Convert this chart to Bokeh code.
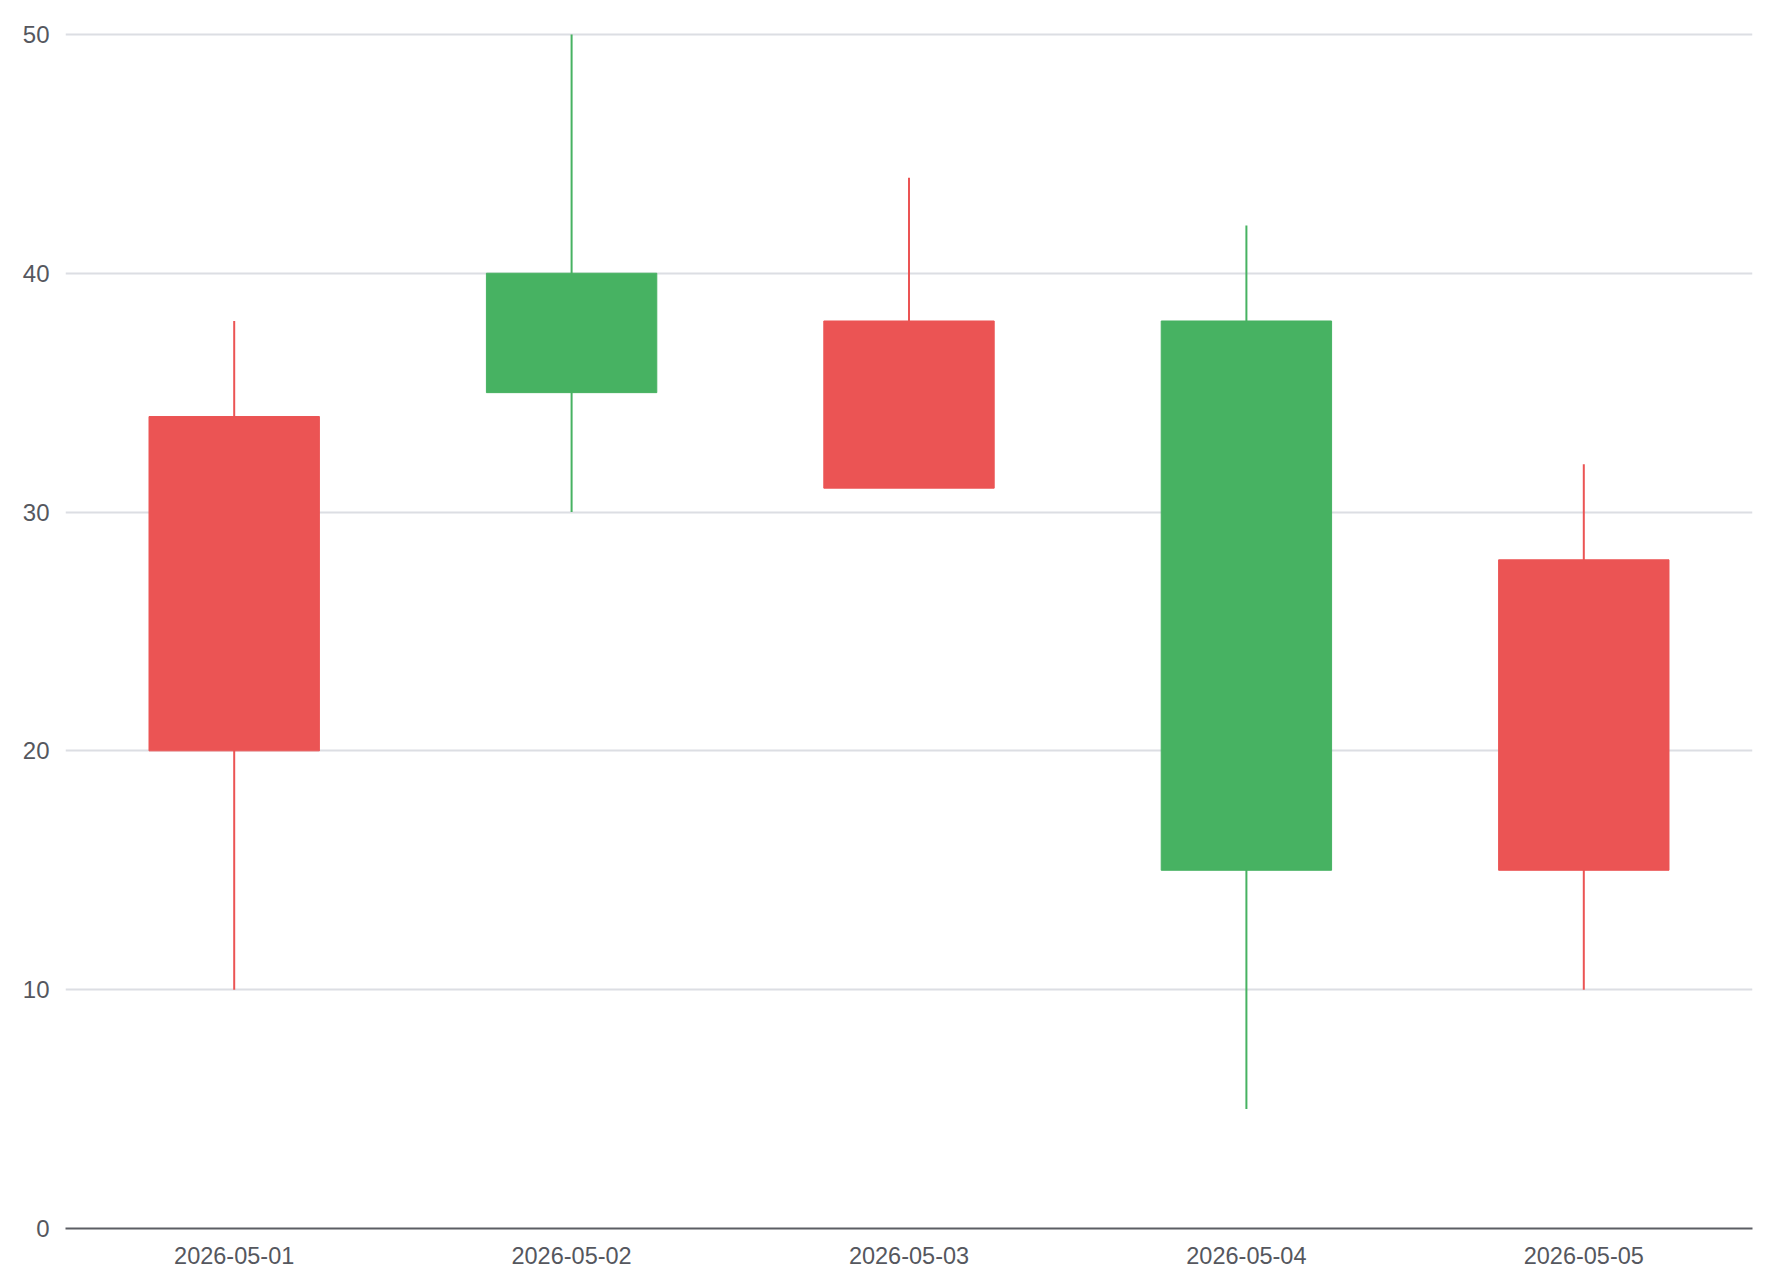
from bokeh.plotting import figure
from bokeh.models import ColumnDataSource, FactorRange, Range1d, FixedTicker
from bokeh.embed import file_html
from bokeh.resources import INLINE

# ---- data (ECharts order: open, close, low, high) ----
dates = ["2026-05-01", "2026-05-02", "2026-05-03", "2026-05-04", "2026-05-05"]
opens = [20, 40, 31, 38, 15]
closes = [34, 35, 38, 15, 28]
lows = [10, 30, 33, 5, 10]
highs = [38, 50, 44, 42, 32]
y_ticks = [0, 10, 20, 30, 40, 50]

UP = "#eb5454"
DOWN = "#47b262"
LABEL = "#55575e"
AXIS = "#5c5e64"
GRID = "#dcdee3"
FONT = "Liberation Sans"

colors = [UP if c >= o else DOWN for o, c in zip(opens, closes)]
src = ColumnDataSource(dict(
    x=dates,
    top=[max(o, c) for o, c in zip(opens, closes)],
    bottom=[min(o, c) for o, c in zip(opens, closes)],
    low=lows,
    high=highs,
    color=colors,
))

p = figure(
    width=1770, height=1280,
    x_range=FactorRange(*dates, range_padding=0),
    y_range=Range1d(0, 50.08),
    output_backend="svg",
    toolbar_location=None,
    min_border_left=65, min_border_right=18,
    min_border_top=32, min_border_bottom=52,
)
p.outline_line_color = None
p.background_fill_color = "white"
p.border_fill_color = "white"

p.segment(x0="x", y0="low", x1="x", y1="high", line_color="color", line_width=2, source=src)
p.vbar(x="x", width=0.505, top="top", bottom="bottom", fill_color="color",
       line_color="color", line_width=1, source=src)

# grid
p.xgrid.visible = False
p.ygrid.ticker = FixedTicker(ticks=y_ticks)
p.ygrid.grid_line_color = GRID
p.ygrid.grid_line_width = 2

# y axis
p.yaxis.ticker = FixedTicker(ticks=y_ticks)
p.yaxis.axis_line_color = None
p.yaxis.major_tick_line_color = None
p.yaxis.minor_tick_line_color = None
p.yaxis.major_tick_out = 0
p.yaxis.major_tick_in = 0
p.yaxis.major_label_standoff = 16
p.yaxis.major_label_text_font = FONT
p.yaxis.major_label_text_font_size = "24px"
p.yaxis.major_label_text_color = LABEL

# x axis
p.xaxis.axis_line_color = AXIS
p.xaxis.axis_line_width = 2
p.xaxis.major_tick_line_color = None
p.xaxis.minor_tick_line_color = None
p.xaxis.major_tick_out = 0
p.xaxis.major_tick_in = 0
p.xaxis.major_label_standoff = 18
p.xaxis.major_label_text_font = FONT
p.xaxis.major_label_text_font_size = "23.5px"
p.xaxis.major_label_text_color = LABEL

open("out.html", "w").write(file_html(p, INLINE))
